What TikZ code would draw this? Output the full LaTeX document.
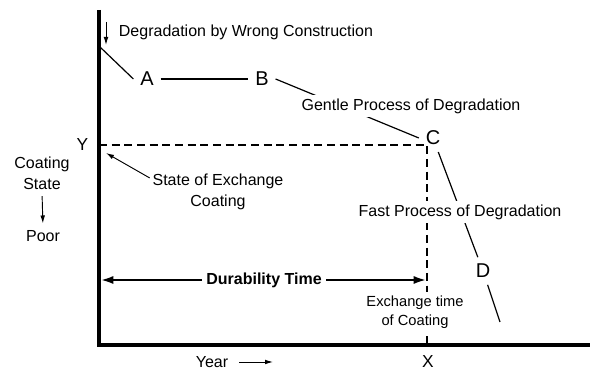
\documentclass[tikz,border=0pt]{standalone}
\usepackage{fontspec}
\setmainfont{Liberation Sans}
\usetikzlibrary{arrows.meta,positioning}

\begin{document}
\begin{tikzpicture}[x=0.75pt,y=-0.75pt,
	txt/.style={font=\fontsize{12}{15.5}\selectfont,inner sep=2pt,align=center},
	mask/.style={txt,fill=white,inner sep=3pt},
	pnt/.style={font=\fontsize{15}{17}\selectfont,inner sep=5pt},
	axl/.style={font=\fontsize{13}{15}\selectfont,inner sep=2pt},
	axis/.style={line width=2.3pt},
	curve/.style={line width=0.9pt},
	guide/.style={line width=0.9pt,dash pattern=on 6pt off 3.5pt},
	thinarrow/.style={line width=0.7pt,-{Latex[length=6pt,width=3.5pt]}},
	dura/.style={line width=2pt,{Latex[length=10pt,width=6pt]}-{Latex[length=10pt,width=6pt]}}]
	\useasboundingbox (0,0) rectangle (590,373);
	% axes
	\coordinate (top) at (99,10);
	\coordinate (o) at (99,345);
	\coordinate (xend) at (590,345);
	\draw[axis] (top) -- (o) -- (xend);
	% points of the curve
	\coordinate (start) at (100,47);
	\node[pnt] (A) at (147,79) {A};
	\node[pnt] (B) at (262,79) {B};
	\node[pnt] (C) at (433,138) {C};
	\node[pnt] (D) at (483,271) {D};
	\coordinate (dend) at (500,322);
	\draw[curve] (start) -- (A.west);
	\draw[curve] (A.east) -- (B.west);
	\draw[curve] (B.east) -- (C.west);
	\draw[curve] (C) -- (D);
	\draw[curve] (D) -- (dend);
	% exchange point
	\coordinate (cY) at (99,145);
	\coordinate (cC) at (427,145);
	\coordinate (cX) at (427,343);
	\draw[guide] (cY) -- (cC) -- (cX);
	\node[axl,left=6pt of cY] (Y) {Y};
	\node[axl] (X) at (428,362) {X};
	\coordinate (dL) at (100,280);
	\coordinate (dR) at (427,280);
	\draw[dura] (dL) -- (dR);
	% labels
	\node[txt,anchor=west] (wrong) at (116,32) {Degradation by Wrong Construction};
	\coordinate (wa) at (106,22);
	\coordinate (wb) at (106,45);
	\draw[thinarrow] (wa) -- (wb);
	\node[mask] (gentle) at (411,106) {Gentle Process of Degradation};
	\node[mask] (fast) at (460,212) {Fast Process of Degradation};
	\node[mask,font=\bfseries\fontsize{12}{14}\selectfont] (durab) at (264,280) {Durability Time};
	\node[mask,font=\fontsize{11}{14}\selectfont] (extime) at (415,312) {Exchange time\\of Coating};
	\node[txt] (exch) at (218,192) {State of Exchange\\Coating};
	\coordinate (ys) at (106,153);
	\draw[thinarrow] ([yshift=-5pt]exch.north west) -- (ys);
	\node[txt] (cstate) at (42,173) {Coating\\State};
	\node[txt] (poor) at (43,236) {Poor};
	\draw[thinarrow,shorten <=3pt,shorten >=3pt] (cstate.south) -- (poor.north);
	\node[txt] (year) at (212,362) {Year};
	\coordinate (yarr) at (273,362);
	\draw[thinarrow,shorten <=6pt] (year.east) -- (yarr);
\end{tikzpicture}
\end{document}
